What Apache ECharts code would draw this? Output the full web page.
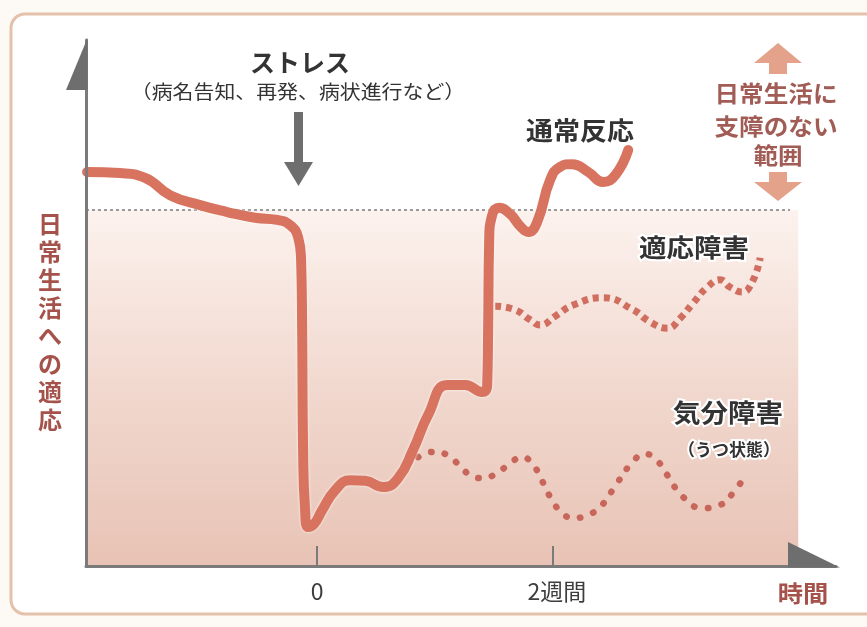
<!DOCTYPE html>
<html>
<head>
<meta charset="utf-8">
<script src="https://cdn.jsdelivr.net/npm/echarts@6/dist/echarts.min.js"></script>
<style>
html,body{margin:0;padding:0;background:#fdf9f4;}
#c{width:867px;height:627px;}
</style>
</head>
<body>
<div id="c"></div>
<script>
// ---- data (x in weeks from the stress event, y = adaptation level 0-100) ----
const normalX = [-1.951,-1.671,-1.459,-1.247,-0.992,-0.763,-0.526,-0.339,-0.229,-0.161,-0.136,-0.127,-0.119,-0.102,-0.076,-0.025,0.042,0.153,0.280,0.407,0.560,0.687,0.814,0.941,1.103,1.255,1.400,1.442,1.450,1.459,1.484,1.544,1.637,1.722,1.790,1.866,1.976,2.061,2.163,2.299,2.426,2.528,2.638];
const normalY = [74.9,74.7,73.8,70.5,68.6,67.3,66.2,65.8,64.8,62.5,58.2,44.9,22.1,10.6,7.4,8.0,10.6,14.4,16.3,16.2,15.0,16.7,22.1,28.7,34.4,34.4,33.1,34.4,44.9,62.0,66.7,68.1,66.9,64.6,63.5,65.4,73.4,75.9,76.4,74.9,73.0,74.3,79.1];

const adjustX = [1.510,1.679,1.807,1.891,2.019,2.171,2.426,2.680,2.824,2.969,3.079,3.189,3.308,3.418,3.503,3.605,3.690,3.757];
const adjustY = [49.4,48.7,46.8,45.8,47.5,49.6,51.0,48.7,46.4,45.2,47.1,50.0,53.0,54.4,53.0,52.1,54.0,58.6];

const moodX = [0.857,0.984,1.103,1.213,1.298,1.408,1.527,1.620,1.739,1.832,1.891,1.993,2.078,2.171,2.290,2.400,2.545,2.655,2.782,2.884,2.969,3.104,3.274,3.418,3.528,3.605];
const moodY = [20.7,21.7,21.1,19.0,17.3,16.7,17.7,19.2,20.7,19.2,16.9,12.5,10.1,9.1,9.7,11.2,15.8,19.2,21.3,20.0,17.3,13.1,11.0,11.6,13.9,16.3];

const xTickValues = [0, 2];
const xTickLabels = ['0', '2週間'];
const thresholdY = 67.7;        // 日常生活に支障のない範囲の境界
const shadeRange = [-1.96, 4.08];
const dashRange = [-1.96, 4.01];

const seriesNames = ['通常反応', '適応障害', '気分障害'];
const yAxisName = '日常生活への適応';
const xAxisName = '時間';

const zip = (xs, ys) => xs.map((x, i) => [x, ys[i]]);
const FONT = '"Noto Sans CJK JP", "Noto Sans", sans-serif';

const chart = echarts.init(document.getElementById('c'), null, {renderer: 'canvas'});

const option = {
  backgroundColor: '#fdf9f4',
  animation: false,
  grid: {left: 86, right: 31, top: 40, bottom: 61, containLabel: false},
  xAxis: {
    type: 'value', min: -1.96, max: 4.4, z: 5,
    axisLine: {show: true, onZero: false, lineStyle: {color: '#7b7b7b', width: 3}},
    axisTick: {show: true, inside: true, length: 20, customValues: xTickValues,
      lineStyle: {color: '#7b7b7b', width: 2}},
    axisLabel: {show: false},
    splitLine: {show: false}
  },
  yAxis: {
    type: 'value', min: 0, max: 100, z: 5,
    axisLine: {show: true, onZero: false, lineStyle: {color: '#7b7b7b', width: 3}},
    axisTick: {show: false}, axisLabel: {show: false}, splitLine: {show: false}
  },
  series: [
    {
      name: seriesNames[0], type: 'line', data: zip(normalX, normalY),
      smooth: 0.5, showSymbol: false, z: 4,
      lineStyle: {color: '#d7735f', width: 10, cap: 'round', join: 'round',
        shadowColor: 'rgba(255,255,255,0.9)', shadowBlur: 3},
      markArea: {
        silent: true, z: 1,
        itemStyle: {color: {type: 'linear', x: 0, y: 0, x2: 0, y2: 1,
          colorStops: [{offset: 0, color: '#fcf2ee'}, {offset: 0.5, color: '#f1d8ce'}, {offset: 1, color: '#e8c3b5'}]}},
        data: [[{coord: [shadeRange[0], 0]}, {coord: [shadeRange[1], thresholdY]}]]
      },
      markLine: {
        silent: true, symbol: 'none', z: 2, label: {show: false},
        lineStyle: {color: '#9a9a9a', type: [3, 3], width: 2},
        data: [[{coord: [dashRange[0], thresholdY]}, {coord: [dashRange[1], thresholdY]}]]
      }
    },
    {
      name: seriesNames[1], type: 'line', data: zip(adjustX, adjustY),
      smooth: 0.5, showSymbol: false, z: 3,
      lineStyle: {color: '#d06e60', width: 7, type: [6, 5], cap: 'butt'}
    },
    {
      name: seriesNames[2], type: 'line', data: zip(moodX, moodY),
      smooth: 0.5, showSymbol: false, z: 3,
      lineStyle: {color: '#c8665b', width: 6.5, type: [0.5, 13.5], cap: 'round'}
    }
  ]
};
chart.setOption(option);

// decorations positioned from the axes
const p = (x, y) => chart.convertToPixel({gridIndex: 0}, [x, y]);
const yTop = p(-1.96, 100);
const xEnd = p(4.4, 0);

const label = (text, x, y, size, color, weight, sx) => ({
  type: 'text', x: x, y: y, z: 20, scaleX: sx || 1,
  style: {text: text, fill: color, font: `${weight || 'normal'} ${size}px ${FONT}`, align: 'center', verticalAlign: 'middle',
    stroke: '#fff', lineWidth: 4}
});

const gray = '#6e6e6e';
const salmon = '#e4a28b';
const B = 'bold';

const tickLabels = xTickValues.map((v, i) => {
  const pt = p(v, 0);
  return {type: 'text', x: pt[0] + (i ? 4 : 0), y: pt[1] + 25, z: 20,
    style: {text: xTickLabels[i], fill: '#3d3d3d', font: `normal 23px ${FONT}`, align: 'center', verticalAlign: 'middle'}};
});

const ax = 778; // range arrows centre
chart.setOption({
  graphic: [
    {type: 'rect', z: -10, shape: {x: 11, y: 14, width: 870, height: 600, r: 14},
      style: {fill: '#fff', stroke: '#e3c1aa', lineWidth: 3}},
    // y-axis half arrow
    {type: 'polygon', z: 10, shape: {points: [[yTop[0] + 1.5, yTop[1] - 2], [yTop[0] + 1.5, yTop[1] + 50], [yTop[0] - 20, yTop[1] + 50]]},
      style: {fill: gray}},
    // x-axis half arrow
    {type: 'polygon', z: 10, shape: {points: [[xEnd[0] - 48, xEnd[1] - 24], [xEnd[0] + 4, xEnd[1] + 1.5], [xEnd[0] - 48, xEnd[1] + 1.5]]},
      style: {fill: gray}},
    // stress arrow
    {type: 'rect', z: 10, shape: {x: 294, y: 112, width: 9, height: 52}, style: {fill: gray}},
    {type: 'polygon', z: 10, shape: {points: [[284, 162], [313, 162], [298.5, 186]]}, style: {fill: gray}},
    // range arrows
    {type: 'polygon', z: 10, shape: {points: [[ax, 43], [ax + 24, 63], [ax + 9, 63], [ax + 9, 74], [ax - 9, 74], [ax - 9, 63], [ax - 24, 63]]}, style: {fill: salmon}},
    {type: 'polygon', z: 10, shape: {points: [[ax - 9, 172], [ax + 9, 172], [ax + 9, 182], [ax + 24, 182], [ax, 201], [ax - 24, 182], [ax - 9, 182]]}, style: {fill: salmon}},
    ...tickLabels,
    // texts
    label('ストレス', 300, 62, 25, '#333', B, 1.0),
    label('（病名告知、再発、病状進行など）', 298, 92, 19, '#333', 'normal', 1.1),
    label(seriesNames[0], 580, 130, 25, '#333', B, 1.08),
    label(seriesNames[1], 694, 247, 25, '#333', B, 1.1),
    label(seriesNames[2], 728, 412, 25, '#333', B, 1.1),
    label('（うつ状態）', 729, 450, 17, '#333', B, 1.0),
    label('日常生活に', 776, 93, 23, '#a05c55', B, 1.07),
    label('支障のない', 776, 126, 23, '#a05c55', B, 1.07),
    label('範囲', 778, 155, 23, '#a05c55', B, 1.07),
    label(xAxisName, 803, 593, 23, '#a5524a', B, 1.1),
    {type: 'text', x: 50, y: 322, z: 20,
      style: {text: yAxisName.split('').join('\n'), fill: '#a5524a', font: `bold 24px ${FONT}`,
        align: 'center', verticalAlign: 'middle', lineHeight: 28}}
  ]
});
</script>
</body>
</html>
